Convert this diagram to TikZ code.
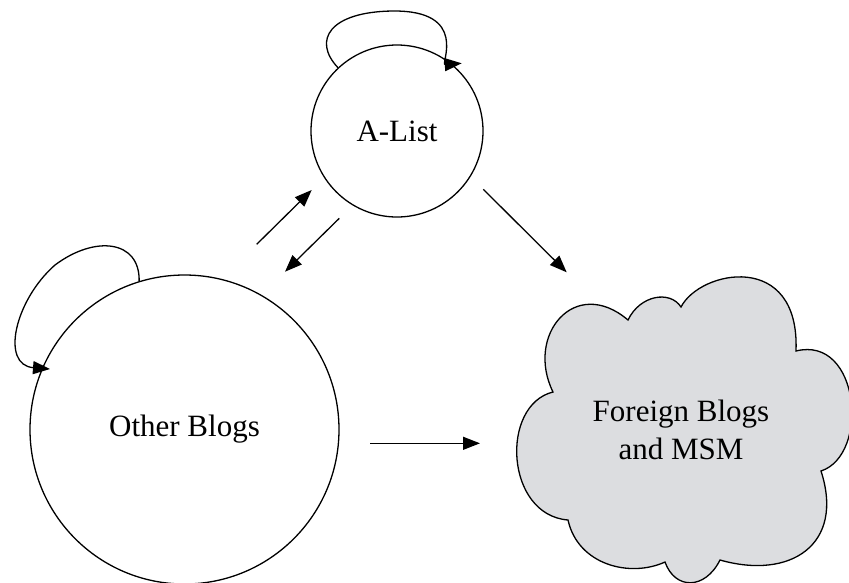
\documentclass[tikz,border=0pt]{standalone}
\usepackage{fontspec}
\setmainfont{Liberation Serif}
\usetikzlibrary{arrows.meta}
\definecolor{cloudgray}{RGB}{220,221,224}
\begin{document}
\begin{tikzpicture}[x=1pt,y=-1pt,
  line width=1.3pt,
  arr/.style={-{Triangle[length=17pt,width=13pt]}},
  circ/.style={draw,circle,inner sep=0pt,font=\fontsize{31}{38}\selectfont},
  lbl/.style={font=\fontsize{31}{38}\selectfont,align=center}]
\useasboundingbox (0,0) rectangle (849,582);
\node[circ,minimum size=172pt] (A) at (397,131) {A-List};
\node[circ,minimum size=309pt] (O) at (184.5,429.5) {Other Blogs};
\draw[fill=cloudgray] (553,392) .. controls (525,335) and (575,275) .. (628,320)
 .. controls (640,295) and (670,290) .. (681,307)
 .. controls (700,270) and (800,250) .. (796,351)
 .. controls (860,335) and (870,455) .. (821,471)
 .. controls (845,545) and (790,580) .. (720,560)
 .. controls (705,590) and (675,590) .. (665,562)
 .. controls (630,578) and (578,565) .. (568,520)
 .. controls (505,515) and (500,405) .. cycle;
\node[lbl] (F) at (681,430) {Foreign Blogs\\and MSM};
% loops
\coordinate (aEnd) at (461.7,63.3);
\coordinate (oEnd) at (50,369);
\draw[arr] (A.133) .. controls (312,40) and (330,12) .. (392,11)
  .. controls (470,10) and (440,65) .. (aEnd);
\draw[arr] (O.107) .. controls (140,240) and (95,235) .. (55,265)
  .. controls (15,300) and (0,365) .. (oEnd);
% straight arrows
\coordinate (oa1) at (256.7,244.3);
\coordinate (oa2) at (311.7,190);
\coordinate (ao1) at (339.3,218.3);
\coordinate (ao2) at (285,271.7);
\coordinate (af1) at (483.3,189.3);
\coordinate (af2) at (566.7,272.3);
\coordinate (of1) at (370,443.3);
\coordinate (of2) at (480,443.3);
\draw[arr] (oa1) -- (oa2);
\draw[arr] (ao1) -- (ao2);
\draw[arr] (af1) -- (af2);
\draw[arr] (of1) -- (of2);
\end{tikzpicture}
\end{document}
